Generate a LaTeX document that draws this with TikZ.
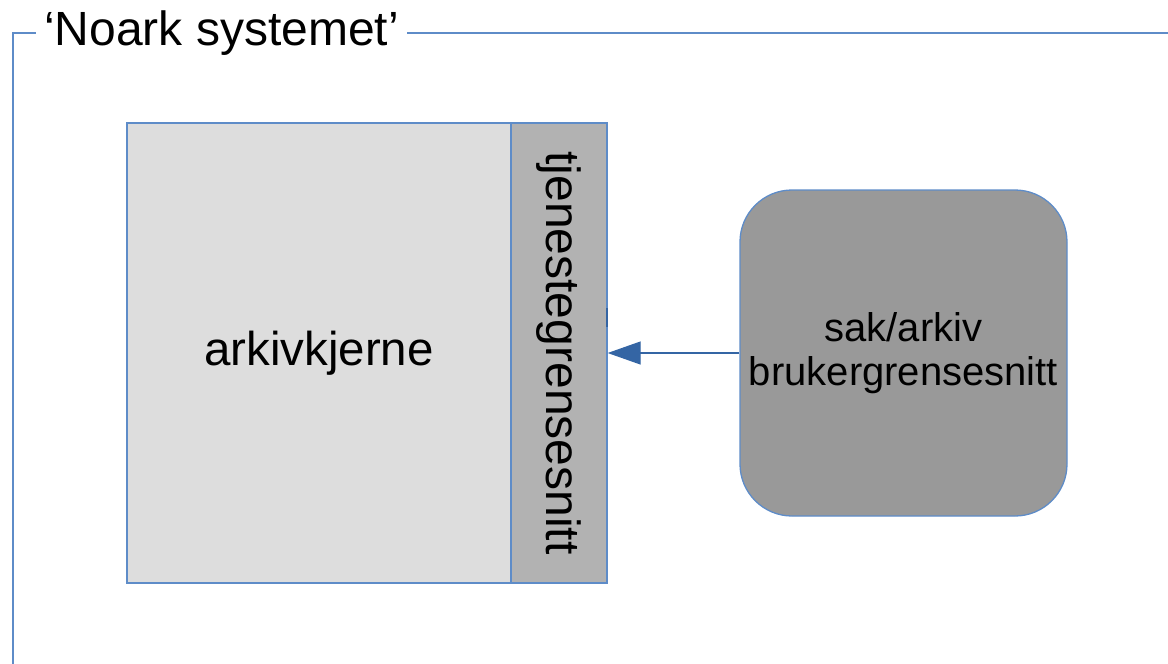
\documentclass[tikz,border=0pt]{standalone}
\usepackage{fontspec}
\setmainfont{Liberation Sans}
\usetikzlibrary{arrows.meta}
\definecolor{edgeblue}{HTML}{5E8CC8}
\definecolor{arrowblue}{HTML}{3465A4}
\definecolor{corefill}{HTML}{DDDDDD}
\definecolor{apifill}{HTML}{B2B2B2}
\definecolor{uifill}{HTML}{999999}
\tikzset{
  framestyle/.style={draw=edgeblue, line width=1.3pt},
  boxstyle/.style={draw=edgeblue, line width=1.3pt, inner sep=0pt},
  conn/.style={draw=arrowblue, line width=1.2pt, -{Triangle[length=33pt,width=23pt]}},
}
\begin{document}
\begin{tikzpicture}[x=1pt,y=-1pt]
\useasboundingbox (0,0) rectangle (1168,664);
\begin{scope}
\clip (0,0) rectangle (1168,664);
\node[font=\fontsize{48}{55}\selectfont, anchor=base, inner xsep=8pt] (title) at (221.5,45) {‘Noark systemet’};
\coordinate (fbl) at (13,680);
\coordinate (ftl) at (13,33);
\coordinate (ftr) at (1180,33);
\draw[framestyle] (fbl) -- (ftl) -- (ftl -| title.west);
\draw[framestyle] (ftl -| title.east) -- (ftr);
\end{scope}
\node[boxstyle, fill=corefill, minimum width=384pt, minimum height=460pt, font=\fontsize{47.5}{54}\selectfont] (core) at (319,353) {arkivkjerne};
\node[boxstyle, fill=apifill, rotate=-90, minimum width=460pt, minimum height=96pt, font=\fontsize{48}{54}\selectfont] (api) at (559,353) {tjenestegrensesnitt};
\node[boxstyle, fill=uifill, rounded corners=52pt, minimum width=327pt, minimum height=326pt, align=center, font=\fontsize{40}{44}\selectfont] (ui) at (903.5,353) {sak/arkiv\\brukergrensesnitt};
\coordinate (tickA) at (607,308);
\coordinate (tickB) at (607,327);
\draw[arrowblue, line width=2pt] (tickA) -- (tickB);
\draw[conn] (ui.west) -- (api.north);
\end{tikzpicture}
\end{document}
